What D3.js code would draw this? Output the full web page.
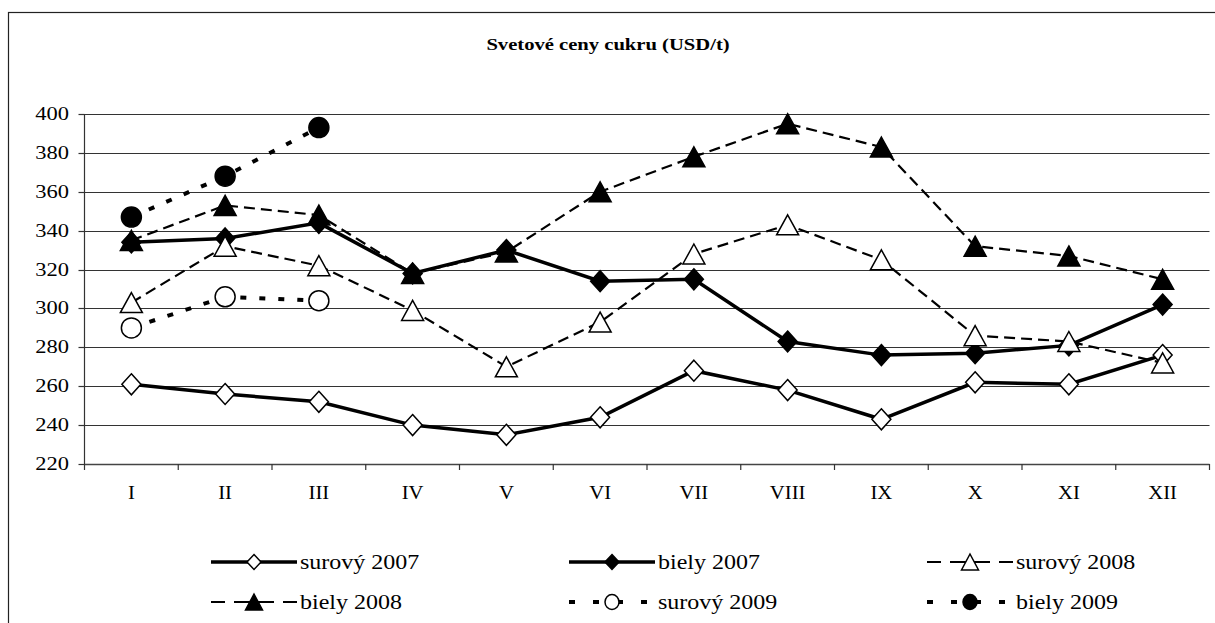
<!DOCTYPE html>
<html>
<head>
<meta charset="utf-8">
<script src="https://cdn.jsdelivr.net/npm/d3@7"></script>
<style>
  body { margin: 0; background: #fff; }
  text { font-family: "Liberation Serif", "Times New Roman", serif; fill: #000; }
</style>
</head>
<body>
<div id="chart"></div>
<script>
/// Data ///
var months = ["I", "II", "III", "IV", "V", "VI", "VII", "VIII", "IX", "X", "XI", "XII"];
var yTicks = [220, 240, 260, 280, 300, 320, 340, 360, 380, 400];

var surovy2007 = [261, 256, 252, 240, 235, 244, 268, 258, 243, 262, 261, 276];
var biely2007 = [334, 336, 344, 318, 330, 314, 315, 283, 276, 277, 281, 302];
var surovy2008 = [303, 332, 322, 299, 270, 293, 328, 343, 325, 286, 283, 272];
var biely2008 = [335, 353, 348, 318, 329, 360, 378, 395, 383, 332, 327, 315];
var surovy2009 = [290, 306, 304];
var biely2009 = [347, 368, 393];

var seriesNames = ["surový 2007", "biely 2007", "surový 2008", "biely 2008", "surový 2009", "biely 2009"];

/// Styles per series ///
var styles = [
    { values: surovy2007, marker: "diamond", fill: "#fff", dash: null, legendDash: null, width: 3.5 },
    { values: biely2007, marker: "diamond", fill: "#000", dash: null, legendDash: null, width: 3.5 },
    { values: surovy2008, marker: "triangle", fill: "#fff", dash: "11,6", legendDash: "14,9,40,9,14", width: 2.2 },
    { values: biely2008, marker: "triangle", fill: "#000", dash: "11,6", legendDash: "14,9,40,9,14", width: 2.2 },
    { values: surovy2009, marker: "circle", fill: "#fff", dash: "6,13", legendDash: "6,18", width: 4 },
    { values: biely2009, marker: "circle", fill: "#000", dash: "6,13", legendDash: "6,18", width: 4 }
];

var svgWidth = 1215;
var svgHeight = 623;
var stretch = 1.25;

var svg = d3.select("#chart")
    .append("svg")
    .attr("width", svgWidth)
    .attr("height", svgHeight);

// outer frame (runs off the right and bottom edges)
svg.append("rect")
    .attr("x", 8.5).attr("y", 12.5)
    .attr("width", 1230).attr("height", 640)
    .attr("fill", "none")
    .attr("stroke", "#222")
    .attr("stroke-width", 1.2);

// helper for horizontally widened text
function wideText(g, x, y, str, size, anchor, sx, weight) {
    return g.append("text")
        .attr("transform", `translate(${x},${y}) scale(${sx},1)`)
        .attr("text-anchor", anchor)
        .attr("font-size", size)
        .attr("font-weight", weight || "normal")
        .text(str);
}

// title
wideText(svg, 608, 50, "Svetové ceny cukru (USD/t)", 16.5, "middle", 1.25, "bold");

/// Scales ///
var x_scale = d3.scaleBand()
    .domain(months)
    .range([84.5, 1209.5]);

var y_scale = d3.scaleLinear()
    .domain([220, 400])
    .range([464, 114]);

var xc = function (i) { return x_scale(months[i]) + x_scale.bandwidth() / 2; };

// gridlines
svg.append("g")
    .selectAll("line")
    .data(yTicks.slice(1))
    .enter()
    .append("line")
    .attr("x1", 84.5).attr("x2", 1209.5)
    .attr("y1", d => Math.round(y_scale(d)) + 0.5)
    .attr("y2", d => Math.round(y_scale(d)) + 0.5)
    .attr("stroke", "#333")
    .attr("stroke-width", 1.2);

// left axis
var axisG = svg.append("g");
axisG.append("line")
    .attr("x1", 84.5).attr("x2", 84.5)
    .attr("y1", y_scale(400)).attr("y2", y_scale(220))
    .attr("stroke", "#333").attr("stroke-width", 1.2);
axisG.selectAll(".ytick")
    .data(yTicks)
    .enter()
    .append("line")
    .attr("x1", 78.5).attr("x2", 84.5)
    .attr("y1", d => Math.round(y_scale(d)) + 0.5)
    .attr("y2", d => Math.round(y_scale(d)) + 0.5)
    .attr("stroke", "#333").attr("stroke-width", 1.2);
yTicks.forEach(function (t) {
    wideText(axisG, 69, y_scale(t) + 6, String(t), 18, "end", stretch);
});

// bottom axis
axisG.append("line")
    .attr("x1", 84.5).attr("x2", 1209.5)
    .attr("y1", y_scale(220) + 0.5).attr("y2", y_scale(220) + 0.5)
    .attr("stroke", "#444").attr("stroke-width", 1.6);
var edges = months.map(m => x_scale(m)).concat([x_scale.range()[1]]);
axisG.selectAll(".xtick")
    .data(edges)
    .enter()
    .append("line")
    .attr("x1", d => d).attr("x2", d => d)
    .attr("y1", y_scale(220)).attr("y2", y_scale(220) + 6)
    .attr("stroke", "#333").attr("stroke-width", 1.2);
months.forEach(function (m, i) {
    wideText(axisG, xc(i), 499, m, 18, "middle", 1.15);
});

/// Markers ///
function drawMarker(g, type, cx, cy, fill, w, h) {
    if (type === "diamond") {
        g.append("path")
            .attr("d", `M${cx},${cy - h / 2}L${cx + w / 2},${cy}L${cx},${cy + h / 2}L${cx - w / 2},${cy}Z`)
            .attr("fill", fill).attr("stroke", "#000").attr("stroke-width", 1.5);
    } else if (type === "triangle") {
        g.append("path")
            .attr("d", `M${cx},${cy - h / 2}L${cx + w / 2},${cy + h / 2}L${cx - w / 2},${cy + h / 2}Z`)
            .attr("fill", fill).attr("stroke", "#000").attr("stroke-width", 1.5);
    } else {
        g.append("ellipse")
            .attr("cx", cx).attr("cy", cy).attr("rx", w / 2).attr("ry", h / 2)
            .attr("fill", fill).attr("stroke", "#000").attr("stroke-width", 1.5);
    }
}

var markerSize = { diamond: [19, 21], triangle: [22, 20], circle: [20, 20] };
var legendMarker = { diamond: [14, 15], triangle: [17, 16], circle: [14, 15] };

var line = d3.line()
    .x((d, i) => xc(i))
    .y(d => y_scale(d));

styles.forEach(function (s) {
    var g = svg.append("g");
    g.append("path")
        .attr("d", line(s.values))
        .attr("fill", "none")
        .attr("stroke", "#000")
        .attr("stroke-width", s.width)
        .attr("stroke-dasharray", s.dash);
    var sz = markerSize[s.marker];
    s.values.forEach(function (v, i) {
        drawMarker(g, s.marker, xc(i), y_scale(v), s.fill, sz[0], sz[1]);
    });
});

/// Legend ///
var legendCols = [211, 569, 927];
var legendRows = [562, 602];
var legend = svg.append("g");
styles.forEach(function (s, i) {
    var lx = legendCols[i % 3];
    var ly = legendRows[Math.floor(i / 3)];
    legend.append("line")
        .attr("x1", lx).attr("x2", lx + 86)
        .attr("y1", ly).attr("y2", ly)
        .attr("stroke", "#000")
        .attr("stroke-width", s.width)
        .attr("stroke-dasharray", s.legendDash);
    var sz = legendMarker[s.marker];
    drawMarker(legend, s.marker, lx + 43, ly, s.fill, sz[0], sz[1]);
    wideText(legend, lx + 89, ly + 7, seriesNames[i], 20, "start", 1.2);
});
</script>
</body>
</html>
